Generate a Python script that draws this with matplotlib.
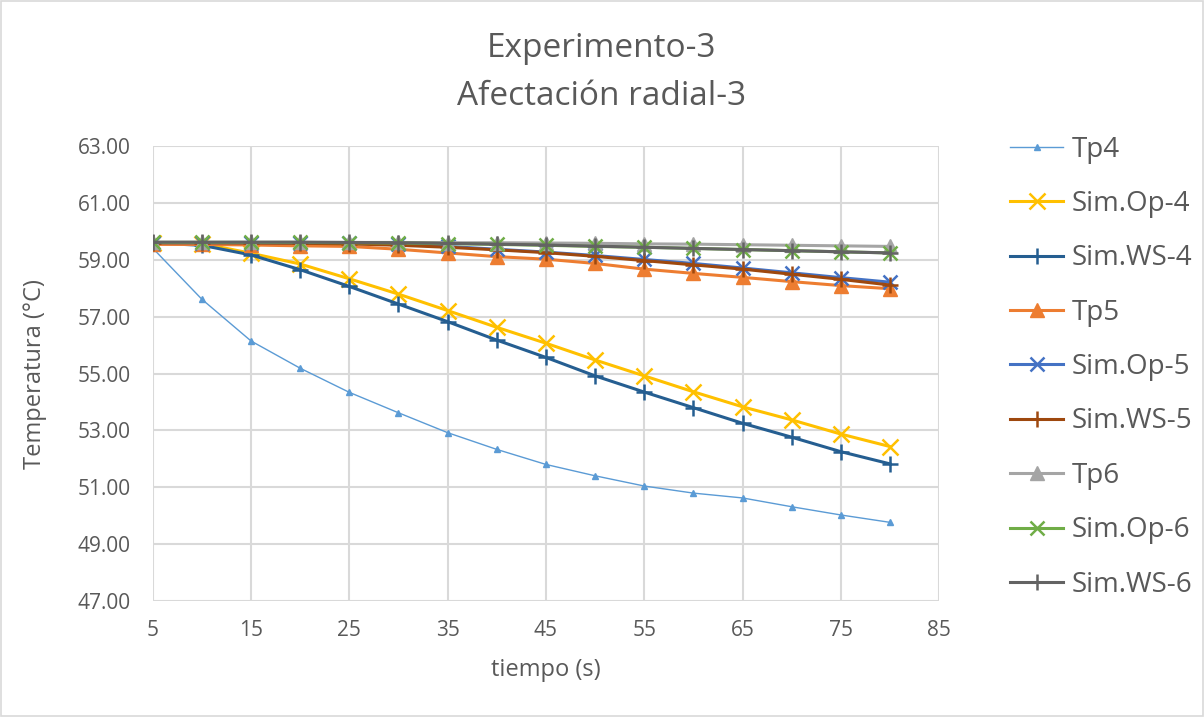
import matplotlib
matplotlib.use("Agg")
import matplotlib.pyplot as plt
from matplotlib.patches import Rectangle

plt.rcParams['font.family'] = ['Open Sans', 'DejaVu Sans']

t = [5, 10, 15, 20, 25, 30, 35, 40, 45, 50, 55, 60, 65, 70, 75, 80]

tp4 = [59.42, 57.62, 56.15, 55.19, 54.34, 53.62, 52.92, 52.33, 51.80, 51.40,
       51.04, 50.79, 50.62, 50.31, 50.02, 49.76]
sim_op4 = [59.60, 59.58, 59.24, 58.86, 58.34, 57.80, 57.22, 56.63, 56.07, 55.48,
           54.92, 54.36, 53.83, 53.37, 52.87, 52.43]
sim_ws4 = [59.60, 59.52, 59.18, 58.66, 58.07, 57.45, 56.83, 56.18, 55.57, 54.92,
           54.35, 53.80, 53.25, 52.76, 52.25, 51.82]
tp5 = [59.55, 59.55, 59.53, 59.50, 59.48, 59.38, 59.25, 59.12, 59.03, 58.88,
       58.68, 58.53, 58.39, 58.24, 58.10, 57.99]
sim_op5 = [59.61, 59.61, 59.61, 59.60, 59.59, 59.55, 59.48, 59.38, 59.28, 59.16,
           59.02, 58.88, 58.72, 58.55, 58.38, 58.22]
sim_ws5 = [59.61, 59.61, 59.60, 59.59, 59.57, 59.52, 59.45, 59.36, 59.26, 59.13,
           58.98, 58.83, 58.68, 58.50, 58.32, 58.12]
tp6 = [59.62, 59.62, 59.62, 59.62, 59.62, 59.62, 59.61, 59.61, 59.60, 59.59,
       59.57, 59.56, 59.54, 59.52, 59.50, 59.48]
sim_op6 = [59.62, 59.62, 59.62, 59.62, 59.61, 59.60, 59.58, 59.55, 59.52, 59.48,
           59.45, 59.41, 59.37, 59.33, 59.29, 59.25]
sim_ws6 = [59.63, 59.63, 59.63, 59.63, 59.62, 59.61, 59.59, 59.56, 59.53, 59.49,
           59.45, 59.41, 59.37, 59.33, 59.29, 59.25]

x_ticks = [5, 15, 25, 35, 45, 55, 65, 75, 85]
y_ticks = [47, 49, 51, 53, 55, 57, 59, 61, 63]

series = [
    ("Tp4", tp4, "#5B9BD5", "^", 5, 1.0),
    ("Sim.Op-4", sim_op4, "#FFC000", "x", 11, 2.2),
    ("Sim.WS-4", sim_ws4, "#255E91", "+", 12, 2.2),
    ("Tp5", tp5, "#ED7D31", "^", 10, 2.2),
    ("Sim.Op-5", sim_op5, "#4472C4", "x", 10, 2.2),
    ("Sim.WS-5", sim_ws5, "#9E480E", "+", 12, 2.2),
    ("Tp6", tp6, "#A5A5A5", "^", 10, 2.2),
    ("Sim.Op-6", sim_op6, "#70AD47", "x", 10, 2.2),
    ("Sim.WS-6", sim_ws6, "#636363", "+", 12, 2.2),
]

fig = plt.figure(figsize=(12.04, 7.17), dpi=100)
ax = fig.add_axes([0.1268, 0.1622, 0.6532, 0.6335])

for name, vals, col, mk, ms, lw in series:
    ax.plot(t, vals, color=col, marker=mk, markersize=ms, linewidth=lw,
            markeredgewidth=1.8 if mk in "x+" else 1.0, label=name)

ax.set_xlim(5, 85)
ax.set_ylim(47, 63)
ax.set_xticks(x_ticks)
ax.set_yticks(y_ticks)
ax.set_yticklabels([f"{v:.2f}" for v in y_ticks])
ax.grid(True, color="#D9D9D9", linewidth=1.5)
ax.set_axisbelow(True)
for s in ax.spines.values():
    s.set_visible(False)
ax.tick_params(length=0, labelsize=15, colors="#595959")
ax.tick_params(axis="y", pad=16)
ax.tick_params(axis="x", pad=14)

ax.set_xlabel("tiempo (s)", fontsize=17, color="#595959", labelpad=12)
ax.set_ylabel("Temperatura (°C)", fontsize=17, color="#595959", labelpad=22)

fig.text(0.5, 0.933, "Experimento-3", ha="center", va="center", fontsize=24, color="#595959")
fig.text(0.5, 0.866, "Afectación radial-3", ha="center", va="center", fontsize=24, color="#595959")

leg = fig.legend(loc="upper left", bbox_to_anchor=(0.839, 0.811), frameon=False,
                 fontsize=20, handlelength=1.9, handletextpad=0.3, labelspacing=0.95,
                 borderpad=0, borderaxespad=0)
for txt in leg.get_texts():
    txt.set_color("#595959")

fig.add_artist(Rectangle((0.001, 0.001), 0.998, 0.997, transform=fig.transFigure,
                         fill=False, edgecolor="#D9D9D9", linewidth=1.2))

fig.savefig("out.png", dpi=100)
